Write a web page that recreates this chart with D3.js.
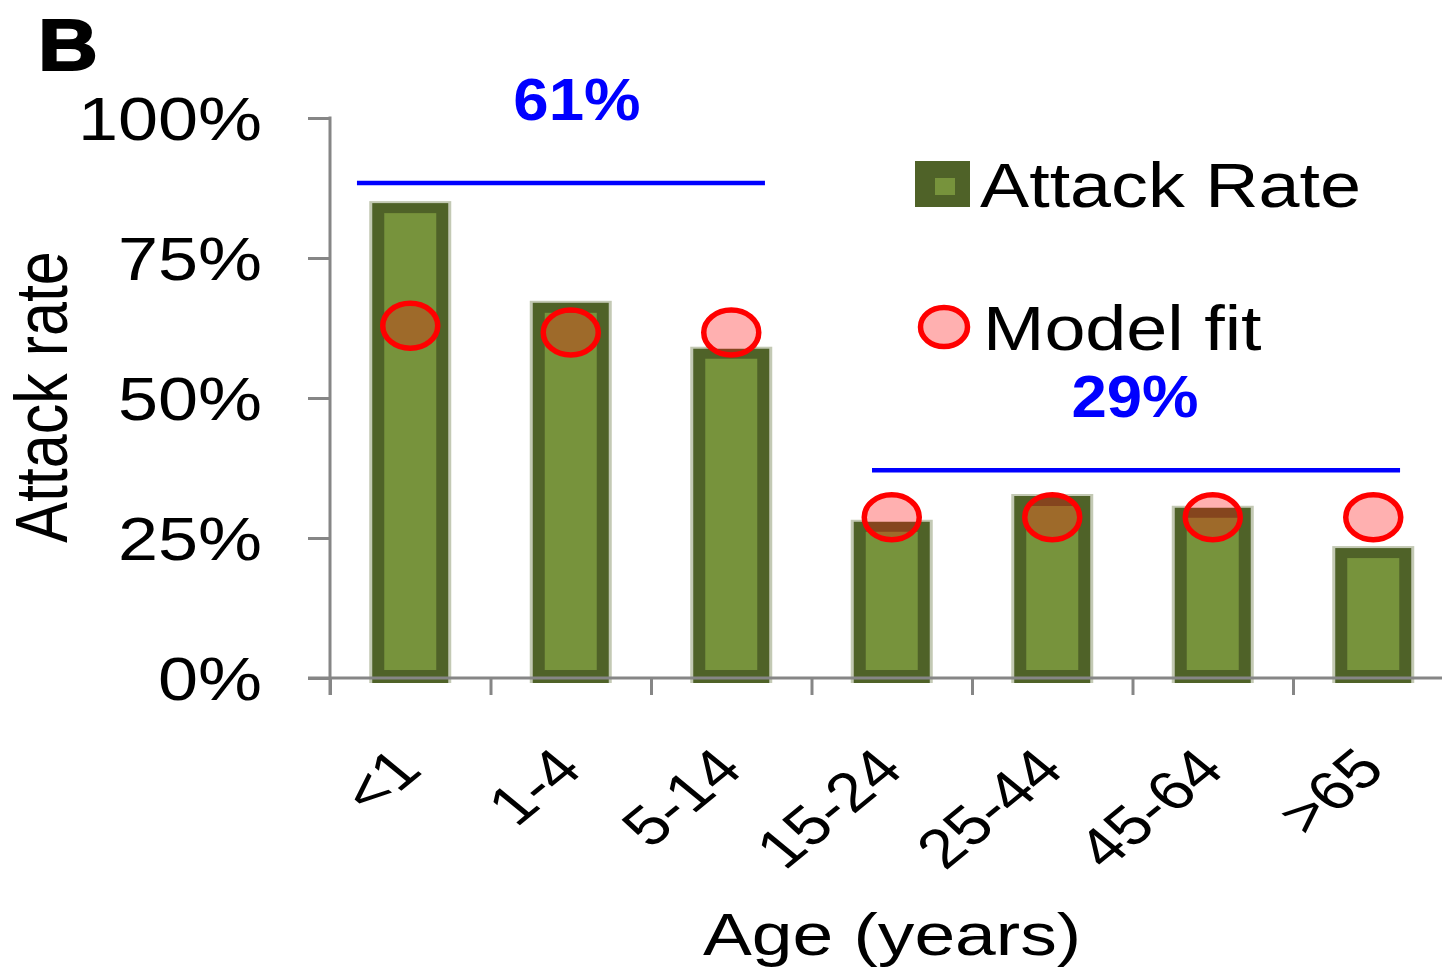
<!DOCTYPE html>
<html>
<head>
<meta charset="utf-8">
<script src="https://cdn.jsdelivr.net/npm/d3@7/dist/d3.min.js"></script>
<style>
  html, body { margin: 0; padding: 0; background: #fff; }
  svg { display: block; }
  text { font-family: "Liberation Sans", Arial, sans-serif; }
</style>
</head>
<body>
<svg id="chart" width="1442" height="969"></svg>
<script>
// ---- data ----
const categories = ["<1", "1-4", "5-14", "15-24", "25-44", "45-64", ">65"];
const attackRate = [84.8, 67.0, 58.8, 27.9, 32.5, 30.4, 23.2];
const modelFit   = [62.9, 61.7, 61.7, 28.7, 28.7, 28.7, 28.7];
const yTicks = [0, 25, 50, 75, 100];
const groupLabels = ["61%", "29%"];
const groupLineLevel = [88.4, 37.1];
const groupLabelLevel = [99.6, 46.6];
const groupSpanStart = [0.168, 3.377];   // in category units
const groupSpanEnd   = [2.71, 6.667];
const legendLabels = ["Attack Rate", "Model fit"];

// ---- layout ----
const svg = d3.select("#chart");
const x0 = 330, yBase = 678, yTop = 118, step = 160.5;
const y = d3.scaleLinear().domain([0, 100]).range([yBase, yTop]);
const x = d3.scaleBand().domain(categories).range([x0, x0 + step * categories.length]).padding(0);
const xu = d3.scaleLinear().domain([0, categories.length]).range([x0, x0 + step * categories.length]);
const cx = c => x(c) + x.bandwidth() / 2;

const dark = "#4f6228", light = "#77933c", axisGray = "#868686";
const brownDark = "#85451e", brown = "#9e6a2a", pink = "#ffb0b0", red = "#ff0000";
const barW = 76, sideB = 12, topB = 10;
const rx = 27.5, ry = 22.5;

// defs: clip paths for circle/bar overlaps
const defs = svg.append("defs");
categories.forEach((c, i) => {
  defs.append("clipPath").attr("id", "outer" + i).append("rect")
    .attr("x", cx(c) - barW / 2).attr("y", y(attackRate[i]))
    .attr("width", barW).attr("height", y(0) - y(attackRate[i]) + 5);
  defs.append("clipPath").attr("id", "inner" + i).append("rect")
    .attr("x", cx(c) - barW / 2 + sideB).attr("y", y(attackRate[i]) + topB)
    .attr("width", barW - 2 * sideB).attr("height", Math.max(0, y(0) - y(attackRate[i]) - topB - 8));
});

// bars
const bars = svg.append("g");
categories.forEach((c, i) => {
  const bx = cx(c) - barW / 2, by = y(attackRate[i]);
  bars.append("rect").attr("x", bx - 3).attr("y", by - 2).attr("width", barW + 6)
    .attr("height", y(0) - by + 7).attr("fill", "#c3c9b4");
  bars.append("rect").attr("x", bx).attr("y", by).attr("width", barW)
    .attr("height", y(0) - by + 5).attr("fill", dark);
  bars.append("rect").attr("x", bx + sideB).attr("y", by + topB).attr("width", barW - 2 * sideB)
    .attr("height", Math.max(0, y(0) - by - topB - 8)).attr("fill", light);
});

// y axis
const yAxis = svg.append("g").attr("transform", `translate(${x0},0)`)
  .call(d3.axisLeft(y).tickValues(yTicks).tickSize(22).tickFormat(d => d + "%"));
yAxis.select(".domain").remove();
yAxis.selectAll(".tick line").attr("stroke", axisGray).attr("stroke-width", 3);
yAxis.selectAll(".tick text")
  .attr("x", -68 / 1.18).attr("dy", "0.36em")
  .attr("transform", "scale(1.18,1)")
  .attr("font-size", 61).attr("fill", "#000")
  .attr("font-family", "Liberation Sans, Arial, sans-serif");
svg.append("line").attr("x1", x0).attr("x2", x0).attr("y1", y(100) - 1.5).attr("y2", y(0) + 17)
  .attr("stroke", axisGray).attr("stroke-width", 3);

// x axis
const xAxis = svg.append("g").attr("transform", `translate(0,${yBase})`)
  .call(d3.axisBottom(xu).tickValues(d3.range(0, categories.length + 1)).tickSize(17).tickFormat(""));
xAxis.select(".domain").remove();
xAxis.selectAll(".tick line").attr("stroke", axisGray).attr("stroke-width", 3);
svg.append("line").attr("x1", 308).attr("x2", 1442).attr("y1", yBase).attr("y2", yBase)
  .attr("stroke", axisGray).attr("stroke-width", 3);

// model fit ellipses
const circ = svg.append("g");
categories.forEach((c, i) => {
  const ex = cx(c), ey = y(modelFit[i]);
  circ.append("ellipse").attr("cx", ex).attr("cy", ey).attr("rx", rx).attr("ry", ry).attr("fill", pink);
  circ.append("ellipse").attr("cx", ex).attr("cy", ey).attr("rx", rx).attr("ry", ry)
    .attr("fill", brownDark).attr("clip-path", `url(#outer${i})`);
  circ.append("ellipse").attr("cx", ex).attr("cy", ey).attr("rx", rx).attr("ry", ry)
    .attr("fill", brown).attr("clip-path", `url(#inner${i})`);
  circ.append("ellipse").attr("cx", ex).attr("cy", ey).attr("rx", rx).attr("ry", ry)
    .attr("fill", "none").attr("stroke", red).attr("stroke-width", 5.5);
});

// category labels
svg.append("g").selectAll("text").data(categories).join("text")
  .attr("transform", d => `translate(${cx(d) + 14},772) scale(1.22,1) rotate(-45)`)
  .attr("text-anchor", "end").attr("font-size", 55).attr("fill", "#000")
  .text(d => d);

// axis titles
svg.append("text").attr("transform", "translate(892,955) scale(1.22,1)")
  .attr("text-anchor", "middle").attr("font-size", 60).text("Age (years)");
svg.append("text").attr("transform", "translate(67,397) scale(1.2,1) rotate(-90)")
  .attr("text-anchor", "middle").attr("font-size", 61).text("Attack rate");

// panel letter
svg.append("text").attr("transform", "translate(38,70) scale(1.15,1)")
  .attr("font-size", 72).attr("font-weight", "bold").attr("stroke", "#000").attr("stroke-width", 2)
  .text("B");

// group annotations
groupLabels.forEach((g, i) => {
  svg.append("line")
    .attr("x1", xu(groupSpanStart[i])).attr("x2", xu(groupSpanEnd[i]))
    .attr("y1", y(groupLineLevel[i])).attr("y2", y(groupLineLevel[i]))
    .attr("stroke", "#0000ff").attr("stroke-width", 4.5);
  const mid = (xu(groupSpanStart[i]) + xu(groupSpanEnd[i])) / 2;
  svg.append("text")
    .attr("transform", `translate(${mid + (i === 0 ? 16 : -1)},${y(groupLabelLevel[i])}) scale(1.06,1)`)
    .attr("text-anchor", "middle").attr("font-size", 60).attr("font-weight", "bold")
    .attr("fill", "#0000ff").text(g);
});

// legend
const lg = svg.append("g");
lg.append("rect").attr("x", 915).attr("y", 161).attr("width", 55).attr("height", 46).attr("fill", dark);
lg.append("rect").attr("x", 935).attr("y", 178).attr("width", 20).attr("height", 17).attr("fill", light);
lg.append("ellipse").attr("cx", 944).attr("cy", 327).attr("rx", 23.5).attr("ry", 19.5)
  .attr("fill", pink).attr("stroke", red).attr("stroke-width", 5.5);
lg.append("text").attr("transform", "translate(980,207) scale(1.17,1)")
  .attr("font-size", 63).text(legendLabels[0]);
lg.append("text").attr("transform", "translate(983,350) scale(1.17,1)")
  .attr("font-size", 63).text(legendLabels[1]);
</script>
</body>
</html>
